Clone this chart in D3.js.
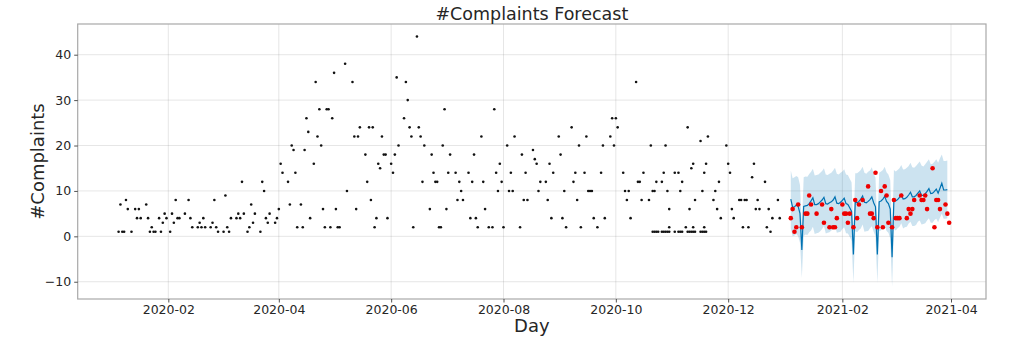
<!DOCTYPE html>
<html>
<head>
<meta charset="utf-8">
<script src="https://cdn.jsdelivr.net/npm/d3@7"></script>
<style>
  body { margin: 0; background: #fff; }
  svg { font-family: "DejaVu Sans", sans-serif; }
</style>
</head>
<body>
<svg id="chart" width="1024" height="360"></svg>
<script>
// observed daily complaints, 2020 (MM-DD, count)
const observed = [
  ["01-05",1],["01-06",7],["01-07",1],["01-08",1],["01-09",8],["01-10",6],["01-12",1],["01-14",6],["01-15",4],["01-16",6],
  ["01-17",4],["01-20",7],["01-21",4],["01-22",1],["01-23",2],["01-24",1],["01-25",1],["01-27",4],["01-28",1],["01-29",3],
  ["01-30",5],["01-31",4],
  ["02-02",1],["02-03",5],["02-04",3],["02-05",8],["02-06",4],["02-07",4],["02-10",5],["02-12",8],["02-13",4],["02-14",2],
  ["02-17",2],["02-18",3],["02-19",2],["02-20",4],["02-21",2],["02-24",2],["02-25",3],["02-26",8],["02-27",2],["02-28",1],
  ["03-02",1],["03-03",9],["03-04",2],["03-05",1],["03-06",4],["03-09",4],["03-10",5],["03-11",4],["03-12",12],["03-13",5],
  ["03-15",1],["03-16",2],["03-17",7],["03-18",3],["03-19",5],["03-22",1],["03-23",12],["03-24",10],["03-25",4],["03-26",3],
  ["03-27",5],["03-30",3],["03-31",4],
  ["04-01",6],["04-02",16],["04-03",14],["04-06",12],["04-07",7],["04-08",20],["04-09",19],["04-10",14],["04-11",2],["04-13",7],
  ["04-14",2],["04-15",19],["04-16",26],["04-17",23],["04-18",4],["04-20",16],["04-21",34],["04-22",22],["04-23",28],["04-24",20],
  ["04-25",6],["04-26",2],["04-27",28],["04-28",28],["04-29",2],["04-30",26],
  ["05-01",36],["05-02",6],["05-03",2],["05-04",2],["05-07",38],["05-08",10],["05-11",34],["05-12",22],["05-13",6],["05-14",22],
  ["05-15",24],["05-18",18],["05-19",12],["05-20",24],["05-21",8],["05-22",24],["05-23",2],["05-24",4],["05-25",16],["05-26",15],
  ["05-27",22],["05-28",18],["05-29",18],["05-30",4],
  ["06-01",16],["06-02",14],["06-03",18],["06-04",35],["06-05",20],["06-08",26],["06-09",34],["06-10",30],["06-11",24],["06-12",22],
  ["06-13",2],["06-15",44],["06-16",24],["06-17",22],["06-18",12],["06-19",20],["06-22",6],["06-23",18],["06-24",14],["06-25",12],
  ["06-26",12],["06-27",2],["06-28",2],["06-29",20],["06-30",28],
  ["07-01",6],["07-02",14],["07-03",18],["07-06",14],["07-07",8],["07-08",12],["07-09",10],["07-10",8],["07-13",14],["07-14",4],
  ["07-15",12],["07-16",18],["07-17",4],["07-18",2],["07-20",22],["07-21",12],["07-22",6],["07-24",2],["07-26",2],["07-27",28],
  ["07-28",14],["07-29",10],["07-30",16],["07-31",12],
  ["08-01",2],["08-03",20],["08-04",10],["08-05",14],["08-06",10],["08-07",22],["08-10",2],["08-11",18],["08-12",8],["08-13",14],
  ["08-14",8],["08-17",19],["08-18",17],["08-19",16],["08-20",10],["08-21",12],["08-24",12],["08-25",8],["08-26",16],["08-27",4],
  ["08-28",14],["08-31",22],
  ["09-01",18],["09-02",4],["09-03",10],["09-04",2],["09-07",24],["09-08",12],["09-09",14],["09-10",8],["09-11",20],["09-12",2],
  ["09-14",14],["09-15",22],["09-16",10],["09-17",10],["09-18",10],["09-19",4],["09-21",2],["09-23",14],["09-24",20],["09-25",4],
  ["09-28",22],["09-29",26],["09-30",20],
  ["10-01",26],["10-02",24],["10-05",14],["10-06",10],["10-07",8],["10-08",10],["10-09",4],["10-12",34],["10-13",12],["10-14",12],
  ["10-15",8],["10-16",14],["10-19",8],["10-20",20],["10-21",10],["10-22",10],["10-23",12],["10-26",12],["10-27",14],["10-28",20],
  ["10-29",10],["10-30",6],["10-30",2],
  ["10-21",1],["10-22",1],["10-23",1],["10-24",1],["10-26",1],["10-27",1],["10-28",1],["10-29",1],["10-30",1],
  ["11-02",14],["11-02",1],["11-04",14],["11-04",1],["11-05",10],["11-05",1],["11-06",12],["11-06",1],["11-08",2],["11-09",24],
  ["11-09",1],["11-10",6],["11-10",1],["11-11",15],["11-11",1],["11-12",16],["11-12",2],["11-12",1],["11-13",8],["11-13",1],
  ["11-16",21],["11-16",1],["11-17",10],["11-17",1],["11-18",14],["11-18",2],["11-18",1],["11-19",16],["11-19",1],["11-20",22],
  ["11-23",8],["11-24",10],["11-25",6],["11-26",12],["11-27",4],["11-30",20],
  ["12-01",16],["12-02",14],["12-03",6],["12-04",4],["12-07",8],["12-08",8],["12-09",2],["12-10",8],["12-11",8],["12-12",2],
  ["12-14",13],["12-15",16],["12-16",6],["12-17",8],["12-18",6],["12-21",12],["12-22",2],["12-23",6],["12-24",1],["12-25",4],
  ["12-28",8],["12-29",4]
];

// forecast, one value per day from forecastStart
const forecastStart = "2021-01-04";
const yhat = [
  8.2, 6.4, 6.5, 6.9, 6.6, 5.0, -3.0,
  6.6, 6.7, 6.8, 7.2, 7.8, 8.5, 7.0,
  7.0, 7.2, 7.6, 8.0, 8.6, 7.2, 7.1,
  7.4, 7.6, 8.0, 8.7, 7.3, 7.2, 7.5,
  7.9, 8.4, 7.2, 7.0, 6.3, 5.5, -4.0,
  7.5, 7.4, 7.7, 8.2, 8.9, 7.5, 7.4,
  7.7, 8.1, 8.7, 7.4, 6.5, -4.0, 7.6,
  7.8, 8.2, 8.8, 7.7, 7.2, 6.0, -4.6,
  8.0, 7.8, 8.1, 8.6, 9.2, 8.2, 8.3,
  8.6, 9.1, 9.7, 8.7, 8.7, 9.0, 9.5,
  10.0, 9.0, 9.0, 9.4, 9.9, 10.5, 9.4,
  9.5, 9.9, 10.4, 9.5, 10.6, 11.7, 10.2,
  10.2, 10.3
];
const yhatLower = [
  1.8, 0.0, 0.2, 0.5, 0.0, -1.4, -9.2,
  0.1, 0.4, 0.3, 0.9, 1.3, 2.1, 0.5,
  0.7, 0.8, 1.1, 1.6, 2.3, 0.6, 0.8,
  0.9, 1.3, 1.5, 2.4, 0.8, 0.9, 1.0,
  1.6, 2.0, 0.7, 0.6, -0.1, -1.0, -10.3,
  1.1, 0.9, 1.4, 1.7, 2.6, 1.0, 1.1,
  1.2, 1.8, 2.2, 1.0, 0.0, -10.3, 1.2,
  1.3, 1.9, 2.4, 1.2, 0.8, -0.4, -11.1,
  1.6, 1.3, 1.8, 2.1, 2.9, 1.7, 2.0,
  2.1, 2.8, 3.2, 2.3, 2.3, 2.5, 3.2,
  3.5, 2.6, 2.7, 2.9, 3.5, 4.0, 3.0,
  3.0, 3.6, 3.9, 3.1, 4.1, 5.0, 3.9,
  3.9, 4.0
];
const yhatUpper = [
  14.5, 12.8, 13.0, 13.3, 13.0, 11.3, 2.0,
  13.0, 13.2, 13.1, 13.7, 14.2, 14.9, 13.4,
  13.5, 13.6, 14.0, 14.4, 15.0, 13.6, 13.5,
  13.8, 14.0, 14.5, 15.1, 13.8, 13.6, 14.0,
  14.3, 14.8, 13.6, 13.5, 12.7, 11.9, 1.5,
  13.9, 13.9, 14.2, 14.6, 15.3, 14.0, 13.8,
  14.2, 14.5, 15.2, 13.8, 12.9, 1.5, 14.0,
  14.3, 14.6, 15.3, 14.1, 13.6, 12.4, 1.0,
  14.6, 14.3, 14.6, 15.0, 15.7, 14.7, 14.8,
  15.1, 15.5, 16.2, 15.2, 15.1, 15.5, 16.0,
  16.5, 15.6, 15.4, 15.9, 16.4, 17.0, 15.9,
  16.0, 16.4, 17.0, 16.2, 17.2, 18.0, 16.6,
  16.6, 16.7
];

// actual counts during the forecast window, 2021 (MM-DD, count)
const actual = [
  ["01-04",4],["01-05",6],["01-06",1],["01-07",2],["01-08",7],["01-10",2],["01-12",5],["01-13",5],["01-14",9],["01-15",7],
  ["01-18",5],["01-21",7],["01-22",3],["01-25",2],["01-26",6],["01-27",2],["01-28",2],["01-29",4],
  ["02-01",7],["02-02",5],["02-03",5],["02-04",3],["02-05",5],["02-07",2],["02-08",8],["02-09",4],["02-10",7],["02-12",8],
  ["02-15",11],["02-16",5],["02-17",5],["02-18",4],["02-19",14],["02-20",2],["02-22",10],["02-23",2],["02-24",11],["02-25",9],
  ["02-26",3],["02-28",2],
  ["03-01",8],["03-02",4],["03-03",4],["03-04",4],["03-05",9],["03-08",4],["03-09",6],["03-10",5],["03-11",6],["03-12",8],
  ["03-15",9],["03-16",8],["03-17",8],["03-18",9],["03-19",6],["03-22",15],["03-23",2],["03-24",8],["03-25",8],["03-26",6],
  ["03-29",7],["03-30",5],["03-31",3]
];

const xTickLabels = ["2020-02","2020-04","2020-06","2020-08","2020-10","2020-12","2021-02","2021-04"];
const yTicks = [-10, 0, 10, 20, 30, 40];

const parseDay = d3.utcParse("%Y-%m-%d");
const parseMonth = d3.utcParse("%Y-%m");

const plot = { left: 77.7, right: 986, top: 24, bottom: 299 };

const x = d3.scaleUtc()
  .domain([new Date(Date.UTC(2019, 11, 13, 19)), new Date(Date.UTC(2021, 3, 20))])
  .range([plot.left, plot.right]);
const y = d3.scaleLinear()
  .domain([-13.8, 46.76])
  .range([plot.bottom, plot.top]);

const svg = d3.select("#chart");
const textColor = "#262626";

// grid
const grid = svg.append("g");
grid.selectAll("line.v")
  .data(xTickLabels)
  .join("line")
  .attr("x1", d => x(parseMonth(d))).attr("x2", d => x(parseMonth(d)))
  .attr("y1", plot.top).attr("y2", plot.bottom)
  .attr("stroke", "gray").attr("stroke-opacity", 0.2).attr("stroke-width", 1);
grid.selectAll("line.h")
  .data(yTicks)
  .join("line")
  .attr("x1", plot.left).attr("x2", plot.right)
  .attr("y1", d => y(d)).attr("y2", d => y(d))
  .attr("stroke", "gray").attr("stroke-opacity", 0.2).attr("stroke-width", 1);

// forecast band + line
const fc = yhat.map((v, i) => ({
  date: d3.utcDay.offset(parseDay(forecastStart), i),
  yhat: v, lo: yhatLower[i], hi: yhatUpper[i]
}));

svg.append("path")
  .datum(fc)
  .attr("d", d3.area().x(d => x(d.date)).y0(d => y(d.lo)).y1(d => y(d.hi)))
  .attr("fill", "#0072B2").attr("fill-opacity", 0.2);

svg.append("path")
  .datum(fc)
  .attr("d", d3.line().x(d => x(d.date)).y(d => y(d.yhat)))
  .attr("fill", "none").attr("stroke", "#0072B2").attr("stroke-width", 1.2);

// observed points
svg.append("g").selectAll("circle")
  .data(observed)
  .join("circle")
  .attr("cx", d => x(parseDay("2020-" + d[0])))
  .attr("cy", d => y(d[1]))
  .attr("r", 1.3)
  .attr("fill", "#111");

// actual points in forecast window
svg.append("g").selectAll("circle")
  .data(actual)
  .join("circle")
  .attr("cx", d => x(parseDay("2021-" + d[0])))
  .attr("cy", d => y(d[1]))
  .attr("r", 2.3)
  .attr("fill", "#ee0000");

// spines
svg.append("rect")
  .attr("x", plot.left).attr("y", plot.top)
  .attr("width", plot.right - plot.left).attr("height", plot.bottom - plot.top)
  .attr("fill", "none").attr("stroke", "#a8a8a8").attr("stroke-width", 1.2);

// axes
const xAxis = svg.append("g")
  .attr("transform", `translate(0,${plot.bottom})`)
  .call(d3.axisBottom(x)
    .tickValues(xTickLabels.map(parseMonth))
    .tickFormat(d3.utcFormat("%Y-%m"))
    .tickSize(3.5).tickSizeOuter(0).tickPadding(3));
const yAxis = svg.append("g")
  .attr("transform", `translate(${plot.left},0)`)
  .call(d3.axisLeft(y)
    .tickValues(yTicks)
    .tickFormat(d => d < 0 ? "\u2212" + Math.abs(d) : d)
    .tickSize(3.5).tickSizeOuter(0).tickPadding(3));

[xAxis, yAxis].forEach(g => {
  g.select(".domain").remove();
  g.selectAll(".tick line").attr("stroke", textColor).attr("stroke-width", 0.8);
  g.selectAll(".tick text")
    .attr("fill", textColor)
    .style("font-family", "DejaVu Sans")
    .style("font-size", "12.5px");
});

// titles
svg.append("text")
  .attr("x", (plot.left + plot.right) / 2).attr("y", 19.5)
  .attr("text-anchor", "middle")
  .attr("fill", textColor)
  .style("font-size", "17.5px")
  .text("#Complaints Forecast");

svg.append("text")
  .attr("x", (plot.left + plot.right) / 2).attr("y", 331.5)
  .attr("text-anchor", "middle")
  .attr("fill", textColor)
  .style("font-size", "18px")
  .text("Day");

svg.append("text")
  .attr("transform", `translate(43.5,${(plot.top + plot.bottom) / 2}) rotate(-90)`)
  .attr("text-anchor", "middle")
  .attr("fill", textColor)
  .style("font-size", "18px")
  .text("#Complaints");
</script>
</body>
</html>
